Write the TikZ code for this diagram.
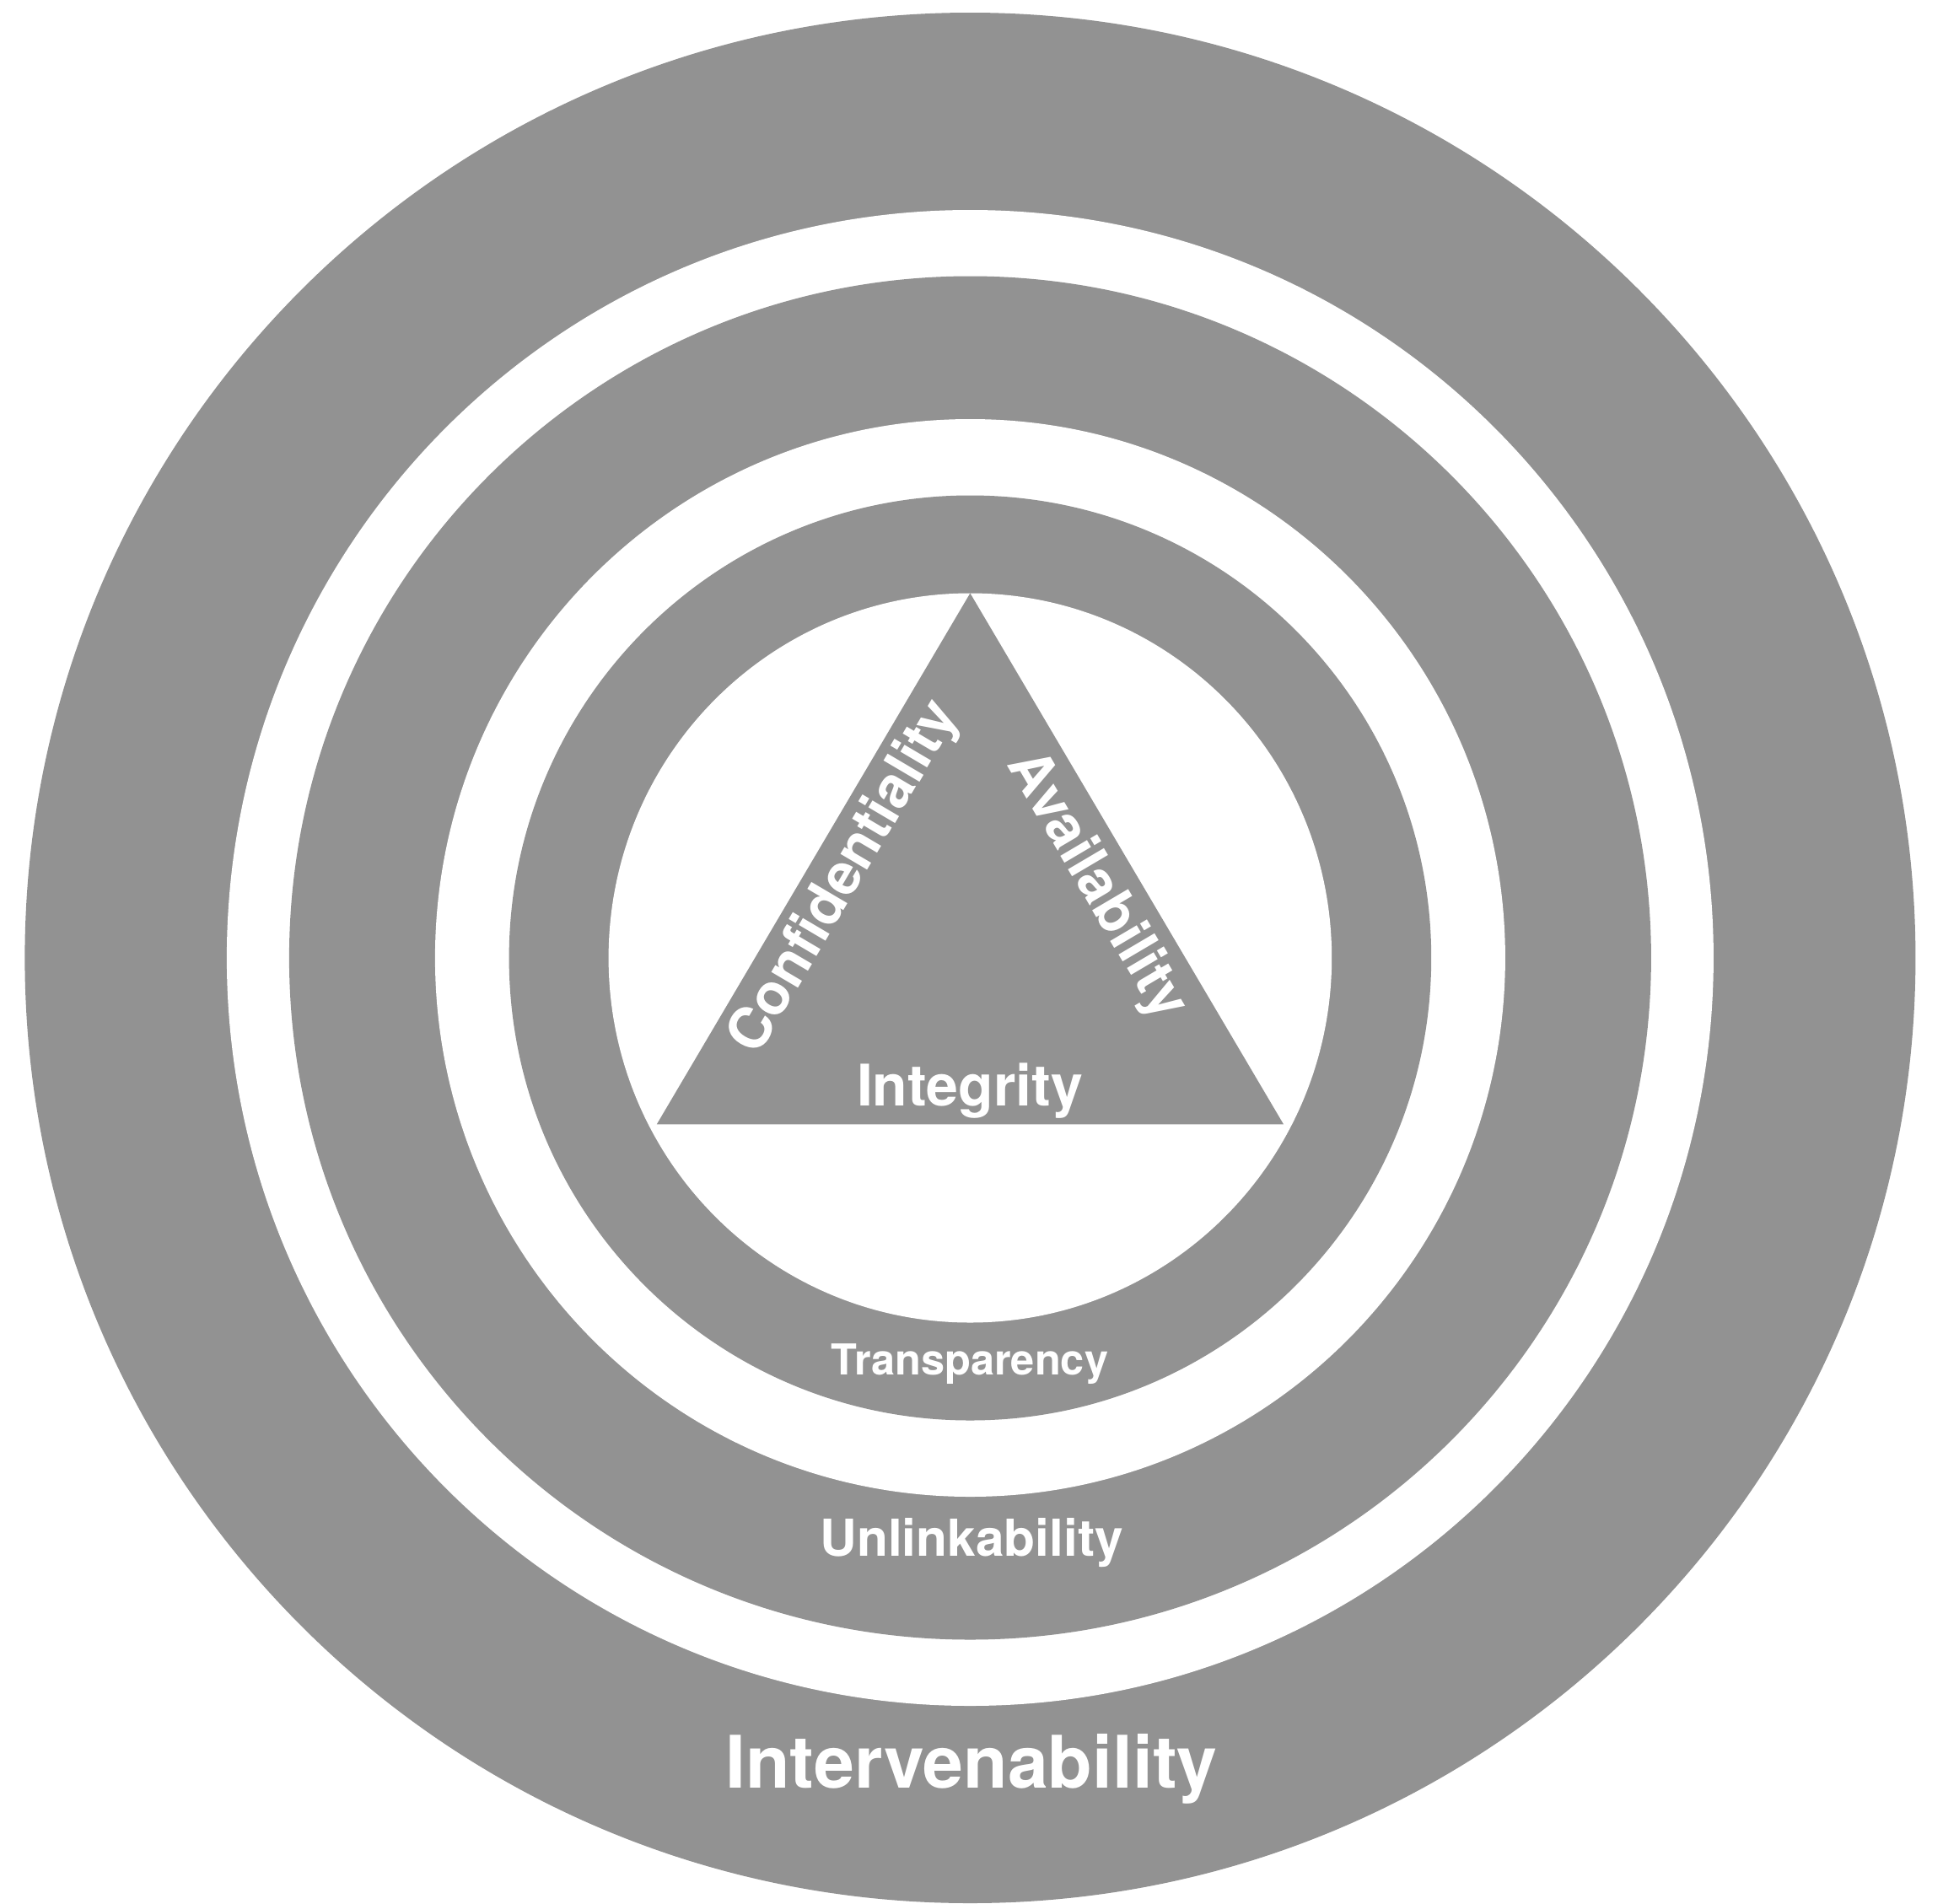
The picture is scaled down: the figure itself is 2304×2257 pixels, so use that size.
\documentclass[tikz,border=0pt]{standalone}
\usepackage{fontspec}
\setmainfont{TeX Gyre Heros}
\definecolor{ringgray}{RGB}{146,146,146}
\begin{document}
\begin{tikzpicture}[x=1pt,y=-1pt,
  lbl/.style={text=white, inner sep=0pt, anchor=base},
  ringfill/.style={fill=ringgray},
  holefill/.style={fill=white}]
\useasboundingbox (0,0) rectangle (2304,2257);
\fill[white] (0,0) rectangle (2304,2257);
\coordinate (c) at (1150.4,1136);
% rings
\path[ringfill] (c) ellipse [x radius=1121pt, y radius=1121pt];
\path[holefill] (c) ellipse [x radius=881.5pt, y radius=887pt];
\path[ringfill] (c) ellipse [x radius=807.5pt, y radius=808.5pt];
\path[holefill] (c) ellipse [x radius=634.5pt, y radius=639pt];
\path[ringfill] (c) ellipse [x radius=546.8pt, y radius=548.5pt];
\path[holefill] (c) ellipse [x radius=428.8pt, y radius=432.5pt];
% triangle
\coordinate (A) at (1150.4,703.5);
\coordinate (L) at (778.8,1333.3);
\coordinate (R) at (1522,1333.3);
\path[ringfill] (A) -- (L) -- (R) -- cycle;
% labels
\node[lbl, font={\fontsize{68}{80}\selectfont\bfseries}] (integ) at (1150,1311.7) {Integrity};
\node[lbl, font={\fontsize{68}{80}\selectfont\bfseries}, rotate=59.46] (conf) at (1018,1049.9) {Confidentiality};
\node[lbl, font={\fontsize{68}{80}\selectfont\bfseries}, rotate=-59.46] (avail) at (1284,1060) {Availability};
\node[lbl, font={\fontsize{50.5}{60}\selectfont\bfseries}] (transp) at (1150,1630) {Transparency};
\node[lbl, font={\fontsize{60.4}{72}\selectfont\bfseries}] (unlink) at (1152,1845) {Unlinkability};
\node[lbl, font={\fontsize{86}{100}\selectfont\bfseries}] (interv) at (1152,2120) {Intervenability};
\end{tikzpicture}
\end{document}
